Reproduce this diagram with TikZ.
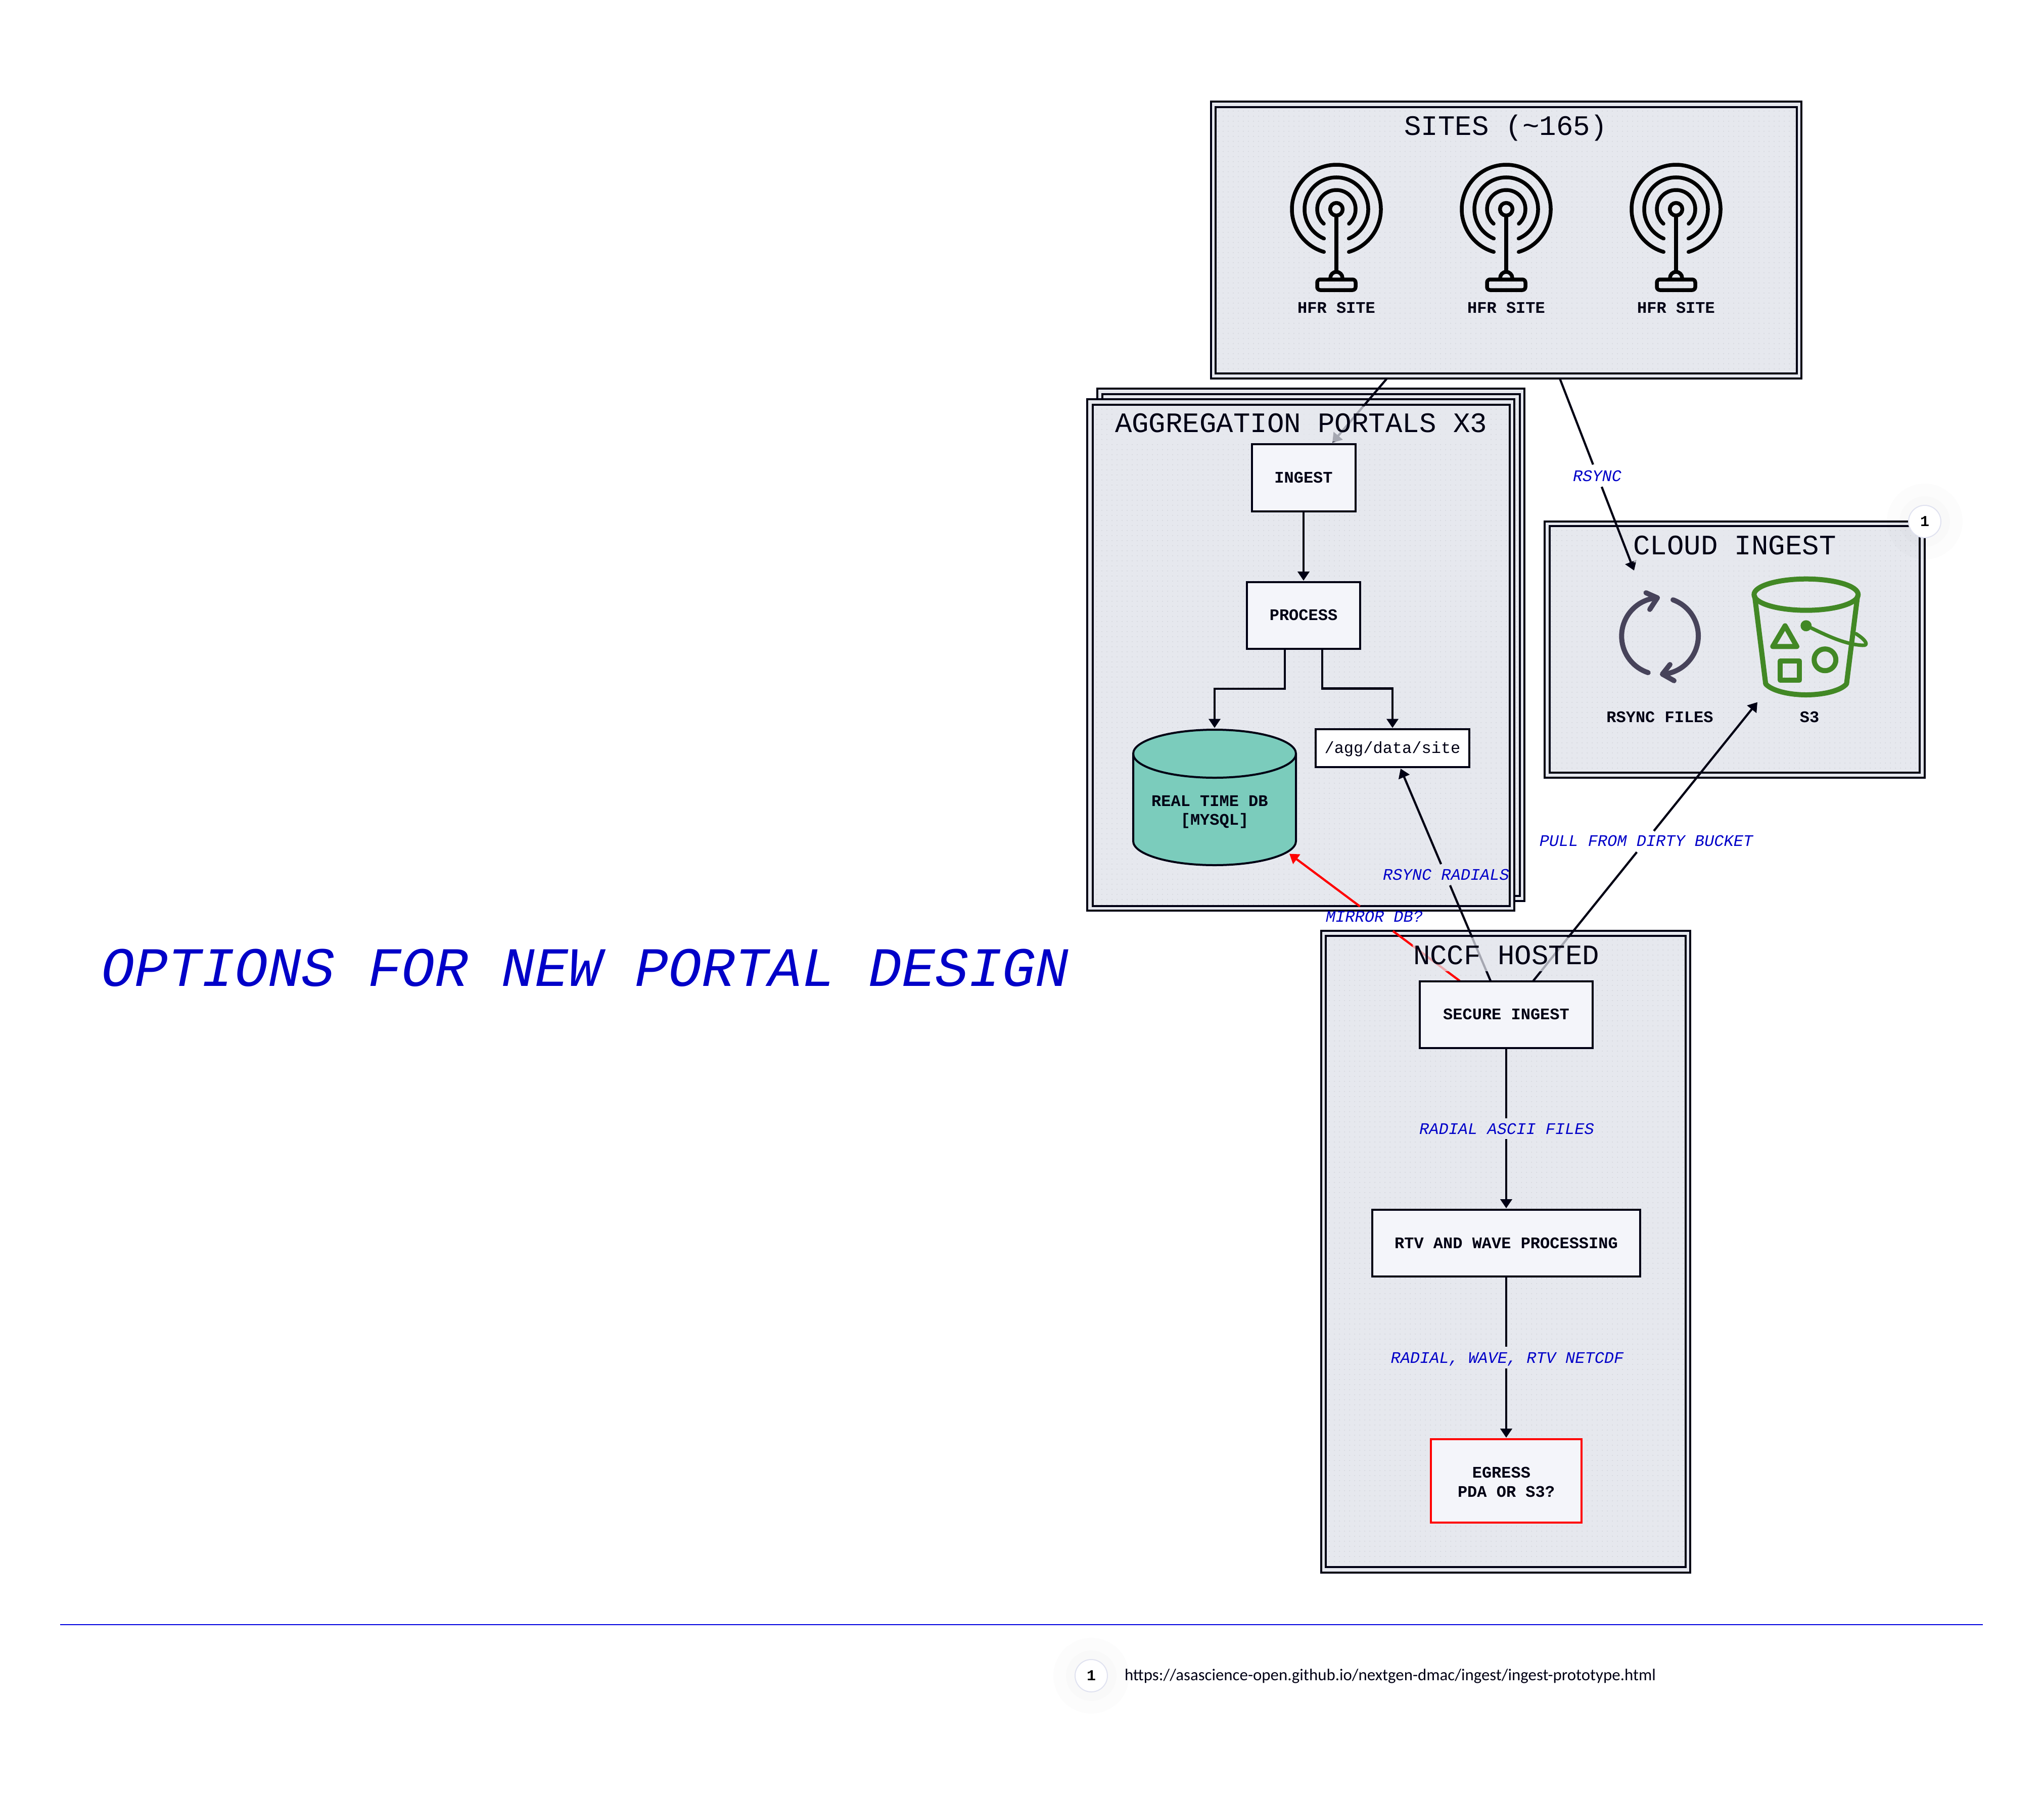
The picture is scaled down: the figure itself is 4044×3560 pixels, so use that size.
\documentclass[tikz,border=0pt]{standalone}
\usepackage{fontspec}
\usepackage{graphicx}
\setmainfont{Liberation Mono}
\newfontfamily\notefont{Carlito}
\usetikzlibrary{arrows.meta,calc,patterns.meta}
\definecolor{panelbg}{HTML}{E6E8EE}
\definecolor{dotc}{HTML}{D2D4DA}
\definecolor{inkc}{HTML}{000014}
\definecolor{boxbg}{HTML}{F4F5FA}
\definecolor{dbbg}{HTML}{7BCCBC}
\definecolor{labelc}{HTML}{0000C8}
\definecolor{rulec}{HTML}{0000E0}
\definecolor{ringc}{HTML}{E0E2F0}
\definecolor{syncc}{HTML}{47435A}
\definecolor{bucketc}{HTML}{428825}
\tikzset{
  x=0.2pt,y=-0.2pt,
  panelouter/.style={draw=inkc,line width=0.95pt,fill=panelbg,inner sep=0pt,outer sep=0pt},
  panelinner/.style={draw=inkc,line width=0.95pt,inner sep=0pt,outer sep=0pt,
    preaction={fill=panelbg},
    preaction={pattern={Dots[distance=2pt,radius=0.2pt]},pattern color=dotc}},
  proc/.style={draw=inkc,line width=0.8pt,fill=boxbg,inner sep=0pt,outer sep=0pt,text=inkc,
    font=\bfseries\fontsize{6.4}{7.5}\selectfont,align=center},
  oneline/.style={text height=4pt,text depth=0pt},
  pathbox/.style={draw=inkc,line width=0.8pt,fill=white,inner sep=0pt,outer sep=0pt,text=inkc,
    font=\fontsize{6.4}{7.5}\selectfont,oneline},
  paneltitle/.style={text=inkc,inner sep=0pt,font=\fontsize{11.15}{13}\selectfont,text height=7.2pt,text depth=0pt},
  caption/.style={text=inkc,inner sep=0pt,font=\bfseries\fontsize{6.4}{7.5}\selectfont,oneline},
  edgelabel/.style={text=labelc,inner sep=0pt,font=\itshape\fontsize{6.4}{7.5}\selectfont,text height=3.6pt,text depth=0pt},
  edge/.style={draw=inkc,line width=0.85pt},
  arrowed/.style={-{Triangle[length=3.6pt,width=4.6pt]}},
  rededge/.style={draw=red,line width=0.85pt},
  band/.style={fill=panelbg,fill opacity=0.72},
  badge/.style={circle,draw=ringc,line width=0.4pt,fill=white,inner sep=0pt,minimum size=12.8pt,
    text=black,font=\bfseries\fontsize{6}{6}\selectfont},
  antenna/.pic={
    \begin{scope}[x=0.2pt,y=0.2pt,line width=1.5pt,line cap=round,line join=round,draw=black]
      \draw (0,0) circle[radius=12.5];
      \draw (-49:38) arc[start angle=-49,end angle=229,radius=38];
      \draw (-67:63) arc[start angle=-67,end angle=247,radius=63];
      \draw (-73.7:88) arc[start angle=-73.7,end angle=253.7,radius=88];
      \draw (0,-16) -- (0,-124);
      \draw (-12,-136) arc[start angle=180,end angle=0,radius=12];
      \draw[rounded corners=1.2pt] (-38,-139) rectangle (38,-160);
    \end{scope}
  },
  syncicon/.pic={
    \begin{scope}[x=0.2pt,y=0.2pt,line width=2pt,line cap=round,line join=round,draw=syncc]
      \draw (-5,75) arc[start angle=94,end angle=252,radius=76];
      \draw (26,71) arc[start angle=70,end angle=-86,radius=76];
      \draw (-27.5,85) -- (-5,75) -- (-20,52);
      \draw (28,-89) -- (5,-76) -- (20,-57);
    \end{scope}
  },
}
\newcommand{\pxbox}[7]{%
  \pgfmathsetmacro\bw{(#5-#3)*0.2}\pgfmathsetmacro\bh{(#6-#4)*0.2}%
  \pgfmathsetmacro\bx{(#3+#5)/2}\pgfmathsetmacro\by{(#4+#6)/2}%
  \node[#2,minimum width=\bw pt,minimum height=\bh pt] (#1) at (\bx,\by) {#7};}
\begin{document}
\begin{tikzpicture}
\useasboundingbox (0,0) rectangle (4044,3560);
\fill[white] (0,0) rectangle (4044,3560);

% title
\node[text=labelc,inner sep=0pt,font=\itshape\fontsize{22}{26}\selectfont,text height=14.5pt,text depth=0pt] (maintitle) at (1158,1915) {OPTIONS FOR NEW PORTAL DESIGN};

% panels
\pxbox{sitesout}{panelouter}{2396}{201}{3564}{749}{}
\pxbox{sitesin}{panelinner}{2405}{212}{3555}{739}{}
\pxbox{aggbackout}{panelouter}{2171}{769}{3016}{1783}{}
\pxbox{aggbackin}{panelinner}{2181}{780}{3007}{1773}{}
\pxbox{aggout}{panelouter}{2151}{790}{2996}{1802}{}
\pxbox{aggin}{panelinner}{2162}{801}{2987}{1793}{}
\pxbox{cloudout}{panelouter}{3056}{1032}{3808}{1539}{}
\pxbox{cloudin}{panelinner}{3066}{1041}{3798}{1529}{}
\pxbox{nccfout}{panelouter}{2614}{1842}{3344}{3112}{}
\pxbox{nccfin}{panelinner}{2623}{1852}{3335}{3101}{}

% top edge of the secure ingest box, used by the connectors that cross panels
\coordinate (secN) at (2980,1941);

% connector end points
\coordinate (e1a) at ($(sitesout.south)+(-236,0)$);
\coordinate (e1b) at (2636,876);
\coordinate (e2a) at ($(sitesout.south)+(106,0)$);
\coordinate (e2b) at (3233,1129);
\coordinate (e3a) at ($(secN)+(-92,0)$);
\coordinate (e3b) at (2551,1689.5);
\coordinate (e4a) at ($(secN)+(-31,0)$);
\coordinate (e4b) at (2771,1521);
\coordinate (e5a) at ($(secN)+(53.5,0)$);
\coordinate (e5b) at (3477,1389.5);

% connectors crossing panels
\draw[edge,arrowed] (e1a) -- (e1b);
\draw[edge] (e2a) -- ($(e2a)!0.448!(e2b)$);
\draw[edge,arrowed] ($(e2a)!0.564!(e2b)$) -- (e2b);
\draw[rededge] (e3a) -- ($(e3a)!0.392!(e3b)$);
\draw[rededge,arrowed] ($(e3a)!0.586!(e3b)$) -- (e3b);
\draw[edge] (e4a) -- ($(e4a)!0.450!(e4b)$);
\draw[edge,arrowed] ($(e4a)!0.550!(e4b)$) -- (e4b);
\draw[edge] (e5a) -- ($(e5a)!0.462!(e5b)$);
\draw[edge,arrowed] ($(e5a)!0.538!(e5b)$) -- (e5b);

% translucent title bands and titles
\fill[band] (2206,804) rectangle (2944,874);
\fill[band] (3232,1046) rectangle (3632,1113);
\fill[band] (2795,1855) rectangle (3163,1922);
\node[paneltitle] (sitestitle) at (2979,249) {SITES (\textasciitilde165)};
\node[paneltitle] (aggtitle) at (2574,837) {AGGREGATION PORTALS X3};
\node[paneltitle] (cloudtitle) at (3432,1079) {CLOUD INGEST};
\node[paneltitle] (nccftitle) at (2980,1890) {NCCF HOSTED};

% sites
\pic at (2644,414) {antenna};
\pic at (2980,414) {antenna};
\pic at (3316,414) {antenna};
\node[caption] (hfr1) at (2644,609) {HFR SITE};
\node[caption] (hfr2) at (2980,609) {HFR SITE};
\node[caption] (hfr3) at (3316,609) {HFR SITE};

% aggregation boxes
\pxbox{ingest}{proc,oneline}{2476.5}{879}{2681.5}{1012}{INGEST}
\pxbox{process}{proc,oneline}{2467}{1151.5}{2691}{1284}{PROCESS}
\pxbox{agg}{pathbox}{2603}{1442.5}{2907}{1518}{/agg/data/site}
\draw[draw=inkc,line width=0.8pt,fill=dbbg]
  (2242,1491.5) arc[start angle=180,end angle=360,x radius=161,y radius=47.5]
  -- (2564,1664.5) arc[start angle=0,end angle=180,x radius=161,y radius=47.5]
  -- cycle;
\draw[draw=inkc,line width=0.8pt] (2242,1491.5) arc[start angle=180,end angle=0,x radius=161,y radius=47.5];
\node[inner sep=0pt,outer sep=0pt,minimum width=64.4pt,minimum height=53.6pt] (db) at (2403,1578) {};
\node[inner sep=0pt,text=inkc,align=center,
  font=\bfseries\fontsize{6.4}{7.5}\selectfont] (dbtext) at (2403,1607) {REAL TIME DB\phantom{ }\\{[MYSQL]}};

\draw[edge,arrowed,shorten >=0.5pt] (ingest.south) -- (process.north);
\draw[edge,arrowed,shorten >=0.7pt] ([xshift=-7.4pt]process.south) |- ($(db.north)+(0,-81)$) -- (db.north);
\draw[edge,arrowed,shorten >=0.4pt] ([xshift=7.4pt]process.south) |- ($(agg.north)+(0,-80)$) -- (agg.north);

% cloud icons
\pic at (3284,1258) {syncicon};
\node[caption] (rsyncfiles) at (3284,1419) {RSYNC FILES};
\node[caption] (s3) at (3580,1419) {S3};
\begin{scope}[draw=bucketc,line width=2pt,line cap=round,line join=round]
  \draw (3573.3,1176.7) ellipse[x radius=103,y radius=31];
  \draw (3471.7,1180) -- (3493.3,1353.3) .. controls (3505,1367) and (3540,1375) .. (3573.3,1375)
        .. controls (3607,1375) and (3642,1367) .. (3653.3,1353.3) -- (3675,1180);
  \draw (3531.7,1238.3) -- (3555,1279.3) -- (3507.3,1279.3) -- cycle;
  \draw (3522.3,1308) rectangle (3560.3,1346.3);
  \draw (3610.7,1305.7) circle[radius=21.5];
  \fill[bucketc] (3573.3,1238.3) circle[radius=11];
  \draw[line width=1.4pt] (3580,1241) .. controls (3615,1258) and (3650,1275) .. (3685,1277)
        .. controls (3697,1278) and (3694,1268) .. (3672,1254);
\end{scope}

% NCCF boxes
\pxbox{secure}{proc,oneline}{2809}{1941.5}{3151}{2074}{SECURE INGEST}
\pxbox{rtv}{proc,oneline}{2715}{2394}{3245}{2526}{RTV AND WAVE PROCESSING}
\pxbox{egress}{proc,draw=red}{2831}{2848}{3129}{3012.5}{\rule{0pt}{5.3pt}EGRESS\phantom{ }\\PDA OR S3?}
\draw[edge] (secure.south) -- ($(secure.south)+(0,139)$);
\draw[edge,arrowed,shorten >=0.6pt] ($(rtv.north)+(0,-140)$) -- (rtv.north);
\draw[edge] (rtv.south) -- ($(rtv.south)+(0,139)$);
\draw[edge,arrowed,shorten >=0.6pt] ($(egress.north)+(0,-140)$) -- (egress.north);

% edge labels
\node[edgelabel] (lrsync) at (3160,943) {RSYNC};
\node[edgelabel] (lradials) at (2861,1732) {RSYNC RADIALS};
\node[edgelabel] (lmirror) at (2719,1815) {MIRROR DB?};
\node[edgelabel] (lpull) at (3257,1665) {PULL FROM DIRTY BUCKET};
\node[edgelabel] (lascii) at (2981,2235) {RADIAL ASCII FILES};
\node[edgelabel] (lnetcdf) at (2982,2688) {RADIAL, WAVE, RTV NETCDF};

% badge glow and badges
\fill[black,opacity=0.012] (3808,1032) circle[radius=75];
\fill[black,opacity=0.012] (3808,1032) circle[radius=50];
\node[badge] (badgea) at (3808,1032) {1};

% footer
\draw[draw=rulec,line width=0.4pt] (119,3215) -- (3923,3215);
\fill[black,opacity=0.012] (2159,3316) circle[radius=75];
\fill[black,opacity=0.012] (2159,3316) circle[radius=50];
\node[badge] (badgeb) at (2159,3316) {1};
\node[anchor=west,inner sep=0pt,text=inkc] (note) at (2224,3317)
  {\resizebox{210.2pt}{!}{\notefont\fontsize{6.4}{8}\selectfont https://asascience-open.github.io/nextgen-dmac/ingest/ingest-prototype.html}};
\end{tikzpicture}
\end{document}
